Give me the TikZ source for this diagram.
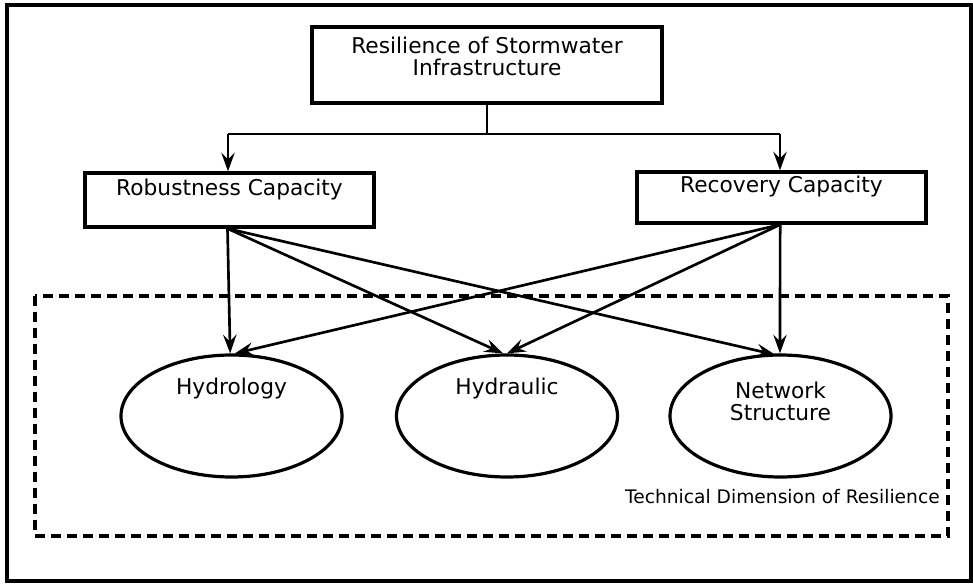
\documentclass[tikz,border=0pt]{standalone}
\usepackage{fontspec}
\setmainfont{DejaVu Sans}
\usetikzlibrary{shapes.geometric,arrows.meta,calc}
\begin{document}
\begin{tikzpicture}[x=0.75pt,y=-0.75pt,
  frame/.style={draw=black,line width=2.6pt},
  boxst/.style={draw=black,line width=2.4pt,rectangle,inner sep=0pt},
  ell/.style={draw=black,line width=2.4pt,ellipse,inner sep=0pt,minimum width=221*0.75pt,minimum height=122*0.75pt},
  txt/.style={font=\fontsize{16.3}{16.5}\selectfont,align=center,inner sep=0pt},
  small/.style={font=\fontsize{14}{16}\selectfont,inner sep=0pt},
  thin/.style={draw=black,line width=1.2pt},
  arr/.style={draw=black,line width=2pt,-{Stealth[length=14pt,width=10pt,inset=5pt]}},
  dash box/.style={draw=black,line width=2.4pt,dash pattern=on 7.5pt off 4.5pt}
]
\useasboundingbox (0,0) rectangle (973,584);
\draw[frame] (7,5) rectangle (971,581);
\draw[dash box] (35,296) rectangle (948,536);

% top box
\node[boxst,minimum width=350*0.75pt,minimum height=76*0.75pt] (top) at (487,65) {};
\node[txt] (toptext) at (487,56) {Resilience of Stormwater\\Infrastructure};

% capacity boxes
\node[boxst,minimum width=289*0.75pt,minimum height=54*0.75pt] (rob) at (229.5,200) {};
\node[txt] (robtext) at (229.5,190) {Robustness Capacity};
\node[boxst,minimum width=289*0.75pt,minimum height=51*0.75pt] (rec) at (781.5,197.5) {};
\node[txt] (rectext) at (781.5,187) {Recovery Capacity};

% ellipses
\node[ell] (hyo) at (231.5,416) {};
\node[txt] (hyotext) at (231.5,389) {Hydrology};
\node[ell] (hya) at (507,416) {};
\node[txt] (hyatext) at (507,389) {Hydraulic};
\node[ell] (net) at (780.5,416) {};
\node[txt] (nettext) at (780.5,401) {Network\\Structure};

\node[small,anchor=east] (techlabel) at (940,497) {Technical Dimension of Resilience};

% connectors from top
\coordinate (split) at (487,134);
\coordinate (lsplit) at (228,134);
\coordinate (rsplit) at (780,134);
\draw[thin] (top.south) -- (split);
\draw[thin] (lsplit) -- (rsplit);
\draw[arr] (lsplit) -- (lsplit |- rob.north);
\draw[arr] (rsplit) -- (rsplit |- rec.north);

% robustness arrows
\coordinate (robS) at ([xshift=-1.5pt]rob.south);
\coordinate (recS) at ([xshift=-1pt]rec.south);
\draw[arr] (robS) -- ([xshift=-1pt]hyo.north);
\draw[arr] (robS) -- ([xshift=-3pt]hya.north);
\draw[arr] (robS) -- ([xshift=-4pt,yshift=-1pt]net.north);
% recovery arrows
\draw[arr] (recS) -- ([xshift=2.5pt]hyo.north);
\draw[arr] (recS) -- ([xshift=0pt]hya.north);
\draw[arr] (recS) -- ([xshift=-0.4pt]net.north);
\end{tikzpicture}
\end{document}
